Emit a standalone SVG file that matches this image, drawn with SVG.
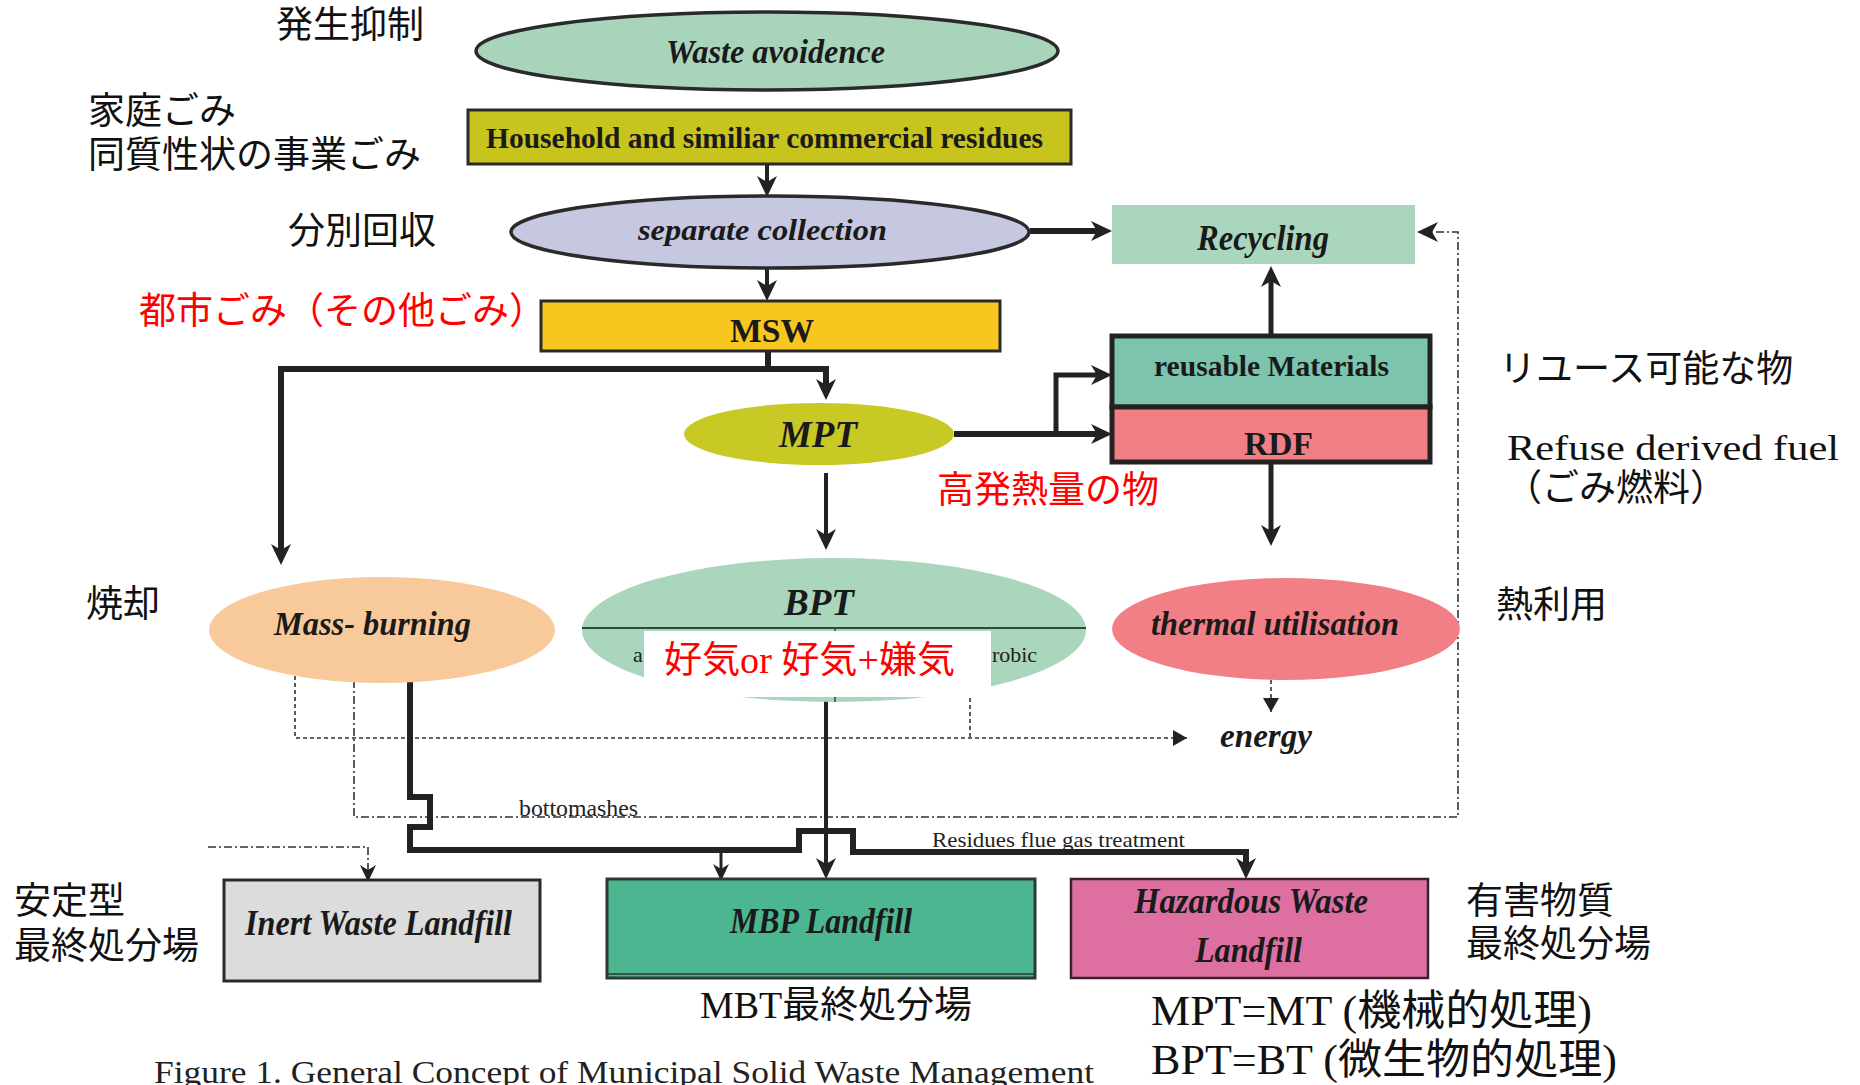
<svg xmlns="http://www.w3.org/2000/svg" width="1860" height="1085" viewBox="0 0 1860 1085">
<style>
.jp{font-family:"Noto Sans CJK JP","Noto Sans CJK SC",sans-serif;font-size:37px;fill:#111}
.mix{font-family:"Liberation Serif","Noto Sans CJK JP",serif;fill:#111}
.nb{font-family:"Liberation Serif",serif;font-weight:bold;font-style:italic;fill:#1a1a1a}
.nr{font-family:"Liberation Serif",serif;font-weight:bold;fill:#1a1a1a}
.sm{font-family:"Liberation Serif",serif;fill:#222}
.thick{fill:none;stroke:#222;stroke-linejoin:miter}
.dot{fill:none;stroke:#333;stroke-width:1.6;stroke-dasharray:4 3}
.dd{fill:none;stroke:#333;stroke-width:1.6;stroke-dasharray:8 3 2 3}
text.red{fill:#ff0000}
</style>
<defs>
<marker id="arrow" markerUnits="userSpaceOnUse" markerWidth="22" markerHeight="22" viewBox="0 0 22 22" refX="13" refY="11" orient="auto">
<path d="M0,1 L21,11 L0,21 L6,11 Z" fill="#222"/>
</marker>
<marker id="arrowS" markerUnits="userSpaceOnUse" markerWidth="18" markerHeight="18" viewBox="0 0 18 18" refX="15" refY="9" orient="auto">
<path d="M0,1 L17,9 L0,17 L5,9 Z" fill="#222"/>
</marker>
<marker id="tri" markerUnits="userSpaceOnUse" markerWidth="16" markerHeight="16" viewBox="0 0 16 16" refX="14" refY="8" orient="auto">
<path d="M0,0 L14,8 L0,16 Z" fill="#222"/>
</marker>
</defs>
<rect x="0" y="0" width="1860" height="1085" fill="#ffffff"/>

<g id="connectors">
<path class="thick" stroke-width="4" d="M767,164 V189" marker-end="url(#arrow)"/>
<path class="thick" stroke-width="4" d="M767,268 V293" marker-end="url(#arrow)"/>
<path class="thick" stroke-width="6" d="M1030,231 H1104" marker-end="url(#arrow)"/>
<path class="thick" stroke-width="6" d="M768,351 V369"/>
<path class="thick" stroke-width="6" d="M281,557 V369 H826 V392" marker-end="url(#arrow)"/>
<path class="thick" stroke-width="6" d="M281,369 V557" marker-end="url(#arrow)"/>
<path class="thick" stroke-width="6" d="M954,434 H1104" marker-end="url(#arrow)"/>
<path class="thick" stroke-width="5" d="M1056,434 V375 H1104" marker-end="url(#arrow)"/>
<path class="thick" stroke-width="5" d="M1271,336 V274" marker-end="url(#arrow)"/>
<path class="thick" stroke-width="5" d="M1271,462 V538" marker-end="url(#arrow)"/>
<path class="thick" stroke-width="4" d="M826,473 V542" marker-end="url(#arrow)"/>
<path class="dot" d="M295,676 V738 H1187" marker-end="url(#tri)"/>
<path class="dot" d="M970,691 V738"/>
<path class="dot" d="M1271,680 V712" marker-end="url(#tri)"/>
<path class="dd" d="M354,680 V817 H1458 V232 H1425" marker-end="url(#arrow)"/>
<path class="dd" stroke-width="2" d="M208,847 H368 V880" marker-end="url(#arrowS)"/>
<path class="thick" stroke-width="6" d="M410,682 V797 H430 V827 H410 V850 H799 V831 H853 V852 H1246 V871" marker-end="url(#arrow)"/>
<path class="thick" stroke-width="3" d="M721,850 V879" marker-end="url(#arrowS)"/>
<path class="thick" stroke-width="4" d="M826,700 V871" marker-end="url(#arrow)"/>
</g>

<g id="waste-avoidence">
<ellipse cx="767" cy="51" rx="291" ry="39" fill="#a9d4bc" stroke="#2a2a2a" stroke-width="3.5"/>
<text class="nb" x="666" y="63" font-size="34" textLength="219" lengthAdjust="spacingAndGlyphs">Waste avoidence</text>
</g>
<g id="household">
<rect x="468" y="110" width="603" height="54" fill="#c8c41e" stroke="#2a2a2a" stroke-width="3"/>
<text class="nr" x="486" y="148" font-size="29" textLength="557" lengthAdjust="spacingAndGlyphs">Household and similiar commercial residues</text>
</g>
<g id="separate-collection">
<ellipse cx="770" cy="232" rx="259" ry="36" fill="#c6c7e1" stroke="#2a2a2a" stroke-width="3.5"/>
<text class="nb" x="638" y="240" font-size="30" textLength="249" lengthAdjust="spacingAndGlyphs">separate collection</text>
</g>
<g id="msw">
<rect x="541" y="301" width="459" height="50" fill="#f7c71f" stroke="#2a2a2a" stroke-width="3"/>
<text class="nr" x="730" y="342" font-size="34" textLength="84" lengthAdjust="spacingAndGlyphs">MSW</text>
</g>
<g id="recycling">
<rect x="1112" y="205" width="303" height="59" fill="#a9d6bd"/>
<text class="nb" x="1197" y="250" font-size="35" textLength="132" lengthAdjust="spacingAndGlyphs">Recycling</text>
</g>
<g id="reusable-materials">
<rect x="1112" y="336" width="318" height="71" fill="#7cc4ad" stroke="#222" stroke-width="5"/>
<text class="nr" x="1154" y="376" font-size="29" textLength="235" lengthAdjust="spacingAndGlyphs">reusable Materials</text>
</g>
<g id="rdf">
<rect x="1112" y="407" width="318" height="55" fill="#f27f84" stroke="#222" stroke-width="5"/>
<text class="nr" x="1244" y="455" font-size="34" textLength="69" lengthAdjust="spacingAndGlyphs">RDF</text>
</g>
<g id="mpt">
<ellipse cx="819" cy="434" rx="135" ry="31" fill="#c9c925"/>
<text class="nb" x="779" y="447" font-size="38" textLength="78" lengthAdjust="spacingAndGlyphs">MPT</text>
</g>
<g id="mass-burning">
<ellipse cx="382" cy="630" rx="173" ry="53" fill="#f8c99b"/>
<text class="nb" x="274" y="635" font-size="34" textLength="197" lengthAdjust="spacingAndGlyphs">Mass- burning</text>
</g>
<g id="bpt">
<ellipse cx="834" cy="630" rx="252" ry="72" fill="#a9d6bd"/>
<line x1="582" y1="628" x2="1086" y2="628" stroke="#2f4a3a" stroke-width="2"/>
<line x1="835" y1="628" x2="835" y2="702" stroke="#2f4a3a" stroke-width="1.5"/>
<text class="nb" x="784" y="615" font-size="38" textLength="70" lengthAdjust="spacingAndGlyphs">BPT</text>
<text class="sm" x="633" y="662" font-size="22" fill="#2f3f35">a</text>
<text class="sm" x="992" y="662" font-size="22" fill="#2f3f35" textLength="45" lengthAdjust="spacingAndGlyphs">robic</text>
<rect x="644" y="631" width="347" height="66" fill="#ffffff"/>
<text class="mix red" x="664" y="673" font-size="37" textLength="291" lengthAdjust="spacingAndGlyphs">好気or 好気+嫌気</text>
</g>
<g id="thermal-utilisation">
<ellipse cx="1286" cy="629" rx="174" ry="51" fill="#f17f85"/>
<text class="nb" x="1151" y="635" font-size="33" textLength="248" lengthAdjust="spacingAndGlyphs">thermal utilisation</text>
</g>
<g id="energy">
<text class="nb" x="1220" y="747" font-size="34" textLength="92" lengthAdjust="spacingAndGlyphs">energy</text>
</g>
<g id="inert-landfill">
<rect x="224" y="880" width="316" height="101" fill="#dcdcdc" stroke="#2a2a2a" stroke-width="3"/>
<text class="nb" x="245" y="935" font-size="36" textLength="267" lengthAdjust="spacingAndGlyphs">Inert Waste Landfill</text>
</g>
<g id="mbp-landfill">
<rect x="607" y="879" width="428" height="99" fill="#4cb690" stroke="#2a3a30" stroke-width="3"/>
<line x1="607" y1="974" x2="1035" y2="974" stroke="#2a3a30" stroke-width="1.5"/>
<text class="nb" x="730" y="933" font-size="36" textLength="182" lengthAdjust="spacingAndGlyphs">MBP Landfill</text>
</g>
<g id="hazardous-landfill">
<rect x="1071" y="879" width="357" height="99" fill="#dd70a0" stroke="#3a2030" stroke-width="2.5"/>
<text class="nb" x="1134" y="913" font-size="35" fill="#2a1424" textLength="234" lengthAdjust="spacingAndGlyphs">Hazardous Waste</text>
<text class="nb" x="1195" y="962" font-size="35" fill="#2a1424" textLength="107" lengthAdjust="spacingAndGlyphs">Landfill</text>
</g>

<g id="edge-labels">
<text class="sm" x="519" y="816" font-size="24" textLength="119" lengthAdjust="spacingAndGlyphs">bottomashes</text>
<text class="sm" x="932" y="847" font-size="22" textLength="253" lengthAdjust="spacingAndGlyphs">Residues flue  gas treatment</text>
</g>

<g id="annotations">
<text class="jp" x="276" y="38">発生抑制</text>
<text class="jp" x="88" y="124">家庭ごみ</text>
<text class="jp" x="88" y="168">同質性状の事業ごみ</text>
<text class="jp" x="288" y="244">分別回収</text>
<text class="jp red" x="139" y="324">都市ごみ（その他ごみ）</text>
<text class="jp red" x="937" y="503">高発熱量の物</text>
<text class="jp" x="86" y="617">焼却</text>
<text class="jp" x="1499" y="382">リユース可能な物</text>
<text class="mix" x="1507" y="460" font-size="36" textLength="332" lengthAdjust="spacingAndGlyphs">Refuse derived fuel</text>
<text class="jp" x="1505" y="501">（ごみ燃料）</text>
<text class="jp" x="1496" y="618">熱利用</text>
<text class="jp" x="14" y="914">安定型</text>
<text class="jp" x="14" y="959">最終処分場</text>
<text class="jp" x="1466" y="914">有害物質</text>
<text class="jp" x="1466" y="957">最終処分場</text>
<text class="mix" x="700" y="1018" font-size="37" textLength="272" lengthAdjust="spacingAndGlyphs">MBT最終処分場</text>
<text class="mix" x="1151" y="1025" font-size="42" textLength="441" lengthAdjust="spacingAndGlyphs">MPT=MT (機械的処理)</text>
<text class="mix" x="1151" y="1074" font-size="42" textLength="466" lengthAdjust="spacingAndGlyphs">BPT=BT (微生物的処理)</text>
<text class="sm" x="154" y="1083" font-size="31" fill="#3a3a3a" textLength="940" lengthAdjust="spacingAndGlyphs">Figure 1. General Concept of Municipal Solid Waste Management</text>
</g>
</svg>
